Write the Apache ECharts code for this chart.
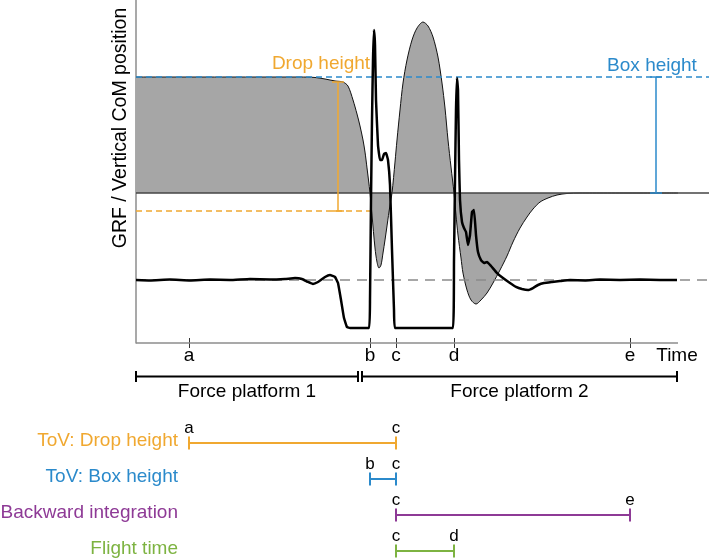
<!DOCTYPE html>
<html>
<head>
<meta charset="utf-8">
<script src="https://cdn.jsdelivr.net/npm/echarts@6/dist/echarts.min.js"></script>
<style>html,body{margin:0;padding:0;background:#fff}#c{width:709px;height:558px}</style>
</head>
<body>
<div id="c"></div>
<script>
// ---------- data (time in arbitrary units, values normalised so box height = 1) ----------
const eventNames = ['a', 'b', 'c', 'd', 'e'];
const eventTimes = [0.53, 2.34, 2.60, 3.18, 4.94];
const timeEnd = 5.42;       // end of the recorded time axis
const timeLabelAt = 5.41;   // where the "Time" caption sits

// Vertical CoM position (grey filled curve)
const comPosition = [
  [0, 1.000], [0.64, 1.000], [1.24, 1.000], [1.64, 1.000], [1.79, 0.996], [1.89, 0.983],
  [1.99, 0.966], [2.07, 0.957], [2.12, 0.922], [2.17, 0.802], [2.21, 0.681], [2.24, 0.578],
  [2.27, 0.457], [2.29, 0.353], [2.31, 0.216], [2.325, 0.112], [2.34, 0], [2.36, -0.190],
  [2.39, -0.474], [2.41, -0.595], [2.43, -0.647], [2.45, -0.621], [2.47, -0.517], [2.49, -0.405],
  [2.51, -0.284], [2.54, -0.103], [2.56, 0], [2.59, 0.267], [2.61, 0.457], [2.64, 0.716],
  [2.67, 0.948], [2.71, 1.147], [2.76, 1.319], [2.81, 1.422], [2.87, 1.474], [2.92, 1.440],
  [2.97, 1.345], [3.02, 1.172], [3.06, 0.948], [3.09, 0.733], [3.12, 0.457], [3.15, 0.224],
  [3.18, 0], [3.20, -0.190], [3.22, -0.362], [3.25, -0.560], [3.27, -0.690], [3.31, -0.836],
  [3.35, -0.922], [3.40, -0.957], [3.45, -0.922], [3.51, -0.862], [3.57, -0.776], [3.64, -0.664],
  [3.71, -0.543], [3.77, -0.422], [3.84, -0.302], [3.91, -0.207], [3.97, -0.138], [4.04, -0.078],
  [4.12, -0.043], [4.21, -0.017], [4.31, -0.004], [4.44, 0], [5.42, 0]
];

// Ground reaction force (thick black line)
const grf = [
  [0, -0.750], [0.14, -0.754], [0.34, -0.746], [0.54, -0.754], [0.74, -0.746], [0.94, -0.750],
  [1.14, -0.741], [1.34, -0.746], [1.49, -0.741], [1.59, -0.733], [1.66, -0.741], [1.72, -0.767],
  [1.77, -0.784], [1.82, -0.767], [1.89, -0.724], [1.94, -0.707], [1.99, -0.724], [2.02, -0.776],
  [2.05, -0.922], [2.08, -1.078], [2.11, -1.155], [2.14, -1.164], [2.33, -1.164], [2.34, -0.922],
  [2.35, -0.060], [2.36, 0.629], [2.37, 1.147], [2.38, 1.405], [2.39, 1.276], [2.40, 0.802],
  [2.42, 0.414], [2.44, 0.284], [2.46, 0.284], [2.48, 0.336], [2.50, 0.345], [2.52, 0.284],
  [2.54, 0.069], [2.56, -0.491], [2.58, -1.009], [2.59, -1.164], [3.17, -1.164], [3.18, -0.578],
  [3.19, 0.112], [3.20, 0.716], [3.21, 0.991], [3.22, 0.888], [3.23, 0.284], [3.24, -0.060],
  [3.26, -0.250], [3.28, -0.302], [3.30, -0.336], [3.32, -0.448], [3.34, -0.362], [3.36, -0.164],
  [3.38, -0.147], [3.40, -0.362], [3.42, -0.509], [3.45, -0.578], [3.48, -0.603], [3.51, -0.595],
  [3.55, -0.629], [3.61, -0.690], [3.67, -0.733], [3.74, -0.776], [3.80, -0.810], [3.86, -0.828],
  [3.92, -0.836], [3.97, -0.819], [4.02, -0.793], [4.08, -0.776], [4.16, -0.767], [4.24, -0.759],
  [4.34, -0.750], [4.49, -0.754], [4.64, -0.746], [4.84, -0.750], [5.04, -0.746], [5.24, -0.750],
  [5.41, -0.750]
];

const yMin = -1.293, yMax = 1.664;
const boxHeight = 1.0;
const bodyWeight = -0.75;
const dropLevel = -0.155;
const lineEnd = 5.73;
const dropLineEnd = 2.34;

// Annotation I-beams: [time, top, bottom, labelTime, labelValue]
const annotationNames = ['Drop height', 'Box height'];
const annotations = [
  [2.02, 0.957, -0.155, 1.85, 1.116],
  [5.20, 1.000, 0.000, 5.16, 1.095]
];

const platforms = ['Force platform 1', 'Force platform 2'];
const platformStart = [0, 2.26];
const platformEnd = [2.22, 5.41];

const methods = ['ToV: Drop height', 'ToV: Box height', 'Backward integration', 'Flight time'];
const methodStartEvent = [0, 1, 2, 2];   // a, b, c, c
const methodEndEvent = [2, 2, 4, 3];     // c, c, e, d

// ---------- style ----------
const FONT = '"Liberation Sans", Arial, Helvetica, sans-serif';
const ORANGE = '#F0A830', BLUE = '#2B8ACB', PURPLE = '#8E3A96', GREEN = '#7DB341';
const methodColors = [ORANGE, BLUE, PURPLE, GREEN];
const annotationColors = [ORANGE, BLUE];
const AXIS_GREY = '#8c8c8c';

function xLabel(v) {
  if (Math.abs(v - timeLabelAt) < 1e-6) return 'Time';
  let best = 0, d = Infinity;
  eventTimes.forEach((t, i) => { if (Math.abs(t - v) < d) { d = Math.abs(t - v); best = i; } });
  return eventNames[best];
}

const chart = echarts.init(document.getElementById('c'), null, { renderer: 'canvas' });

const option = {
  animation: false,
  backgroundColor: '#fff',
  textStyle: { fontFamily: FONT },
  grid: [
    { left: 136, top: 0, width: 573, height: 343, containLabel: false, outerBoundsMode: 'none' },
    { left: 136, top: 360.5, width: 542, height: 32, containLabel: false, outerBoundsMode: 'none' },
    { left: 180, top: 443, width: 498, height: 108, containLabel: false, outerBoundsMode: 'none' }
  ],
  xAxis: [
    {
      gridIndex: 0, type: 'value', min: 0, max: lineEnd, position: 'bottom',
      axisLine: { show: false, onZero: false },
      axisTick: { show: true, customValues: eventTimes, length: 5, lineStyle: { color: '#333', width: 1 } },
      axisLabel: { show: true, customValues: eventTimes.concat([timeLabelAt]), formatter: xLabel, margin: 3, color: '#000', fontSize: 19, fontFamily: FONT },
      splitLine: { show: false }
    },
    {
      gridIndex: 0, type: 'value', min: 0, max: lineEnd, position: 'bottom',
      axisLine: { show: false, onZero: false },
      axisTick: { show: true, inside: true, customValues: eventTimes, length: 5, lineStyle: { color: '#333', width: 1 } },
      axisLabel: { show: false }, splitLine: { show: false }
    },
    { gridIndex: 1, type: 'value', min: 0, max: 5.42, show: false, splitLine: { show: false } },
    { gridIndex: 2, type: 'value', min: 0.44, max: 5.42, show: false, splitLine: { show: false } }
  ],
  yAxis: [
    {
      gridIndex: 0, type: 'value', min: yMin, max: yMax,
      axisLine: { show: true, onZero: false, lineStyle: { color: AXIS_GREY, width: 1.5 } },
      axisTick: { show: false }, axisLabel: { show: false }, splitLine: { show: false }
    },
    { gridIndex: 1, type: 'category', data: ['platform'], show: false },
    {
      gridIndex: 2, type: 'category', data: methods, inverse: true, boundaryGap: false,
      axisLine: { show: false }, axisTick: { show: false }, splitLine: { show: false },
      axisLabel: {
        margin: 2, fontSize: 19, fontFamily: FONT, padding: [0, 0, 5, 0],
        formatter: (v, i) => '{r' + i + '|' + v + '}',
        rich: {
          r0: { color: ORANGE, fontSize: 19, fontFamily: FONT },
          r1: { color: BLUE, fontSize: 19, fontFamily: FONT },
          r2: { color: PURPLE, fontSize: 19, fontFamily: FONT },
          r3: { color: GREEN, fontSize: 19, fontFamily: FONT }
        }
      }
    }
  ],
  graphic: [
    {
      type: 'text', x: 121, y: 128, rotation: Math.PI / 2,
      style: { text: 'GRF / Vertical CoM position', fill: '#000', font: '19.5px ' + FONT, align: 'center', verticalAlign: 'middle' }
    }
  ],
  series: [
    {
      name: 'Time axis', type: 'line', xAxisIndex: 0, yAxisIndex: 0, clip: false,
      data: [[0, yMin], [timeEnd, yMin]], symbol: 'none',
      lineStyle: { color: AXIS_GREY, width: 1.5 }, z: 1
    },
    {
      name: 'CoM position', type: 'line', xAxisIndex: 0, yAxisIndex: 0,
      data: comPosition, smooth: 0.3, symbol: 'none',
      lineStyle: { color: '#111', width: 1 },
      areaStyle: { color: '#A6A6A6', opacity: 1 }, z: 2
    },
    {
      name: 'zero', type: 'line', xAxisIndex: 0, yAxisIndex: 0, clip: false,
      data: [[0, 0], [lineEnd, 0]], symbol: 'none',
      lineStyle: { color: '#444', width: 1.5 }, z: 3
    },
    {
      name: 'Box height level', type: 'line', xAxisIndex: 0, yAxisIndex: 0, clip: false,
      data: [[0, boxHeight], [lineEnd, boxHeight]], symbol: 'none',
      lineStyle: { color: BLUE, width: 1.5, type: [6, 4] }, z: 3
    },
    {
      name: 'Body weight', type: 'line', xAxisIndex: 0, yAxisIndex: 0, clip: false,
      data: [[0, bodyWeight], [lineEnd, bodyWeight]], symbol: 'none',
      lineStyle: { color: '#8a8a8a', width: 1.5, type: [10, 7] }, z: 3
    },
    {
      name: 'Drop level', type: 'line', xAxisIndex: 0, yAxisIndex: 0, clip: false,
      data: [[0, dropLevel], [dropLineEnd, dropLevel]], symbol: 'none',
      lineStyle: { color: ORANGE, width: 1.5, type: [6, 4] }, z: 3
    },
    {
      name: 'GRF', type: 'line', xAxisIndex: 0, yAxisIndex: 0,
      data: grf, smooth: 0.1, symbol: 'none',
      lineStyle: { color: '#000', width: 2.5 }, z: 4
    },
    {
      name: 'Annotations', type: 'custom', xAxisIndex: 0, yAxisIndex: 0, clip: false,
      data: annotations, encode: { x: 0, y: [1, 2] }, z: 5,
      renderItem: function (params, api) {
        const i = params.dataIndex;
        const c = annotationColors[i];
        const p1 = api.coord([api.value(0), api.value(1)]);
        const p2 = api.coord([api.value(0), api.value(2)]);
        const pl = api.coord([api.value(3), api.value(4)]);
        const st = { stroke: c, lineWidth: 1.5 };
        return {
          type: 'group', children: [
            { type: 'line', shape: { x1: p1[0], y1: p1[1], x2: p2[0], y2: p2[1] }, style: st },
            { type: 'line', shape: { x1: p1[0] - 6, y1: p1[1], x2: p1[0] + 6, y2: p1[1] }, style: st },
            { type: 'line', shape: { x1: p2[0] - 6, y1: p2[1], x2: p2[0] + 6, y2: p2[1] }, style: st },
            { type: 'text', x: pl[0], y: pl[1], style: { text: annotationNames[i], fill: c, font: '19px ' + FONT, align: 'center', verticalAlign: 'middle' } }
          ]
        };
      }
    },
    {
      name: 'Force platforms', type: 'custom', xAxisIndex: 2, yAxisIndex: 1, clip: false,
      data: platforms.map((p, i) => [platformStart[i], platformEnd[i], 0]),
      encode: { x: [0, 1], y: 2 },
      renderItem: function (params, api) {
        const i = params.dataIndex;
        const s = api.coord([api.value(0), 0]);
        const e = api.coord([api.value(1), 0]);
        const y = s[1];
        const st = { stroke: '#000', lineWidth: 2 };
        return {
          type: 'group', children: [
            { type: 'line', shape: { x1: s[0], y1: y, x2: e[0], y2: y }, style: st },
            { type: 'line', shape: { x1: s[0], y1: y - 5.5, x2: s[0], y2: y + 5.5 }, style: st },
            { type: 'line', shape: { x1: e[0], y1: y - 5.5, x2: e[0], y2: y + 5.5 }, style: st },
            { type: 'text', x: (s[0] + e[0]) / 2, y: y + 6, style: { text: platforms[i], fill: '#000', font: '19px ' + FONT, align: 'center', verticalAlign: 'top' } }
          ]
        };
      }
    },
    {
      name: 'Methods', type: 'custom', xAxisIndex: 3, yAxisIndex: 2, clip: false,
      data: methods.map((m, i) => [eventTimes[methodStartEvent[i]], eventTimes[methodEndEvent[i]], i]),
      encode: { x: [0, 1], y: 2 },
      renderItem: function (params, api) {
        const i = params.dataIndex;
        const c = methodColors[i];
        const s = api.coord([api.value(0), api.value(2)]);
        const e = api.coord([api.value(1), api.value(2)]);
        const y = s[1];
        const st = { stroke: c, lineWidth: 2 };
        const tf = '17px ' + FONT;
        return {
          type: 'group', children: [
            { type: 'line', shape: { x1: s[0], y1: y, x2: e[0], y2: y }, style: st },
            { type: 'line', shape: { x1: s[0], y1: y - 6.5, x2: s[0], y2: y + 6.5 }, style: st },
            { type: 'line', shape: { x1: e[0], y1: y - 6.5, x2: e[0], y2: y + 6.5 }, style: st },
            { type: 'text', x: s[0], y: y - 15, style: { text: eventNames[methodStartEvent[i]], fill: '#000', font: tf, align: 'center', verticalAlign: 'middle' } },
            { type: 'text', x: e[0], y: y - 15, style: { text: eventNames[methodEndEvent[i]], fill: '#000', font: tf, align: 'center', verticalAlign: 'middle' } }
          ]
        };
      }
    }
  ]
};
chart.setOption(option);
</script>
</body>
</html>
